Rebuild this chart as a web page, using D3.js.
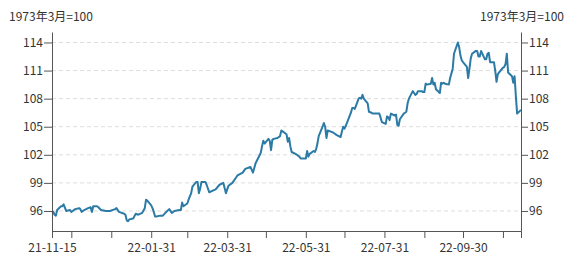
<!DOCTYPE html>
<html>
<head>
<meta charset="utf-8">
<script src="https://cdn.jsdelivr.net/npm/d3@7"></script>
<style>
  html, body { margin: 0; padding: 0; background: #fff; }
  .chart text { font-family: "Noto Sans CJK SC", "Open Sans", sans-serif; font-size: 12px; fill: #333; }
  .axis path, .axis line { stroke: #555; }
  .grid line { stroke: #ddd; stroke-dasharray: 4 3; }
  .line { fill: none; stroke: #2b7ba6; stroke-width: 2; stroke-linejoin: round; }
</style>
</head>
<body>
<div class="chart"></div>
<script>
const unitLabel = "1973年3月=100";

const dates = [
  "2021-11-15","2021-11-16","2021-11-17","2021-11-18","2021-11-19","2021-11-22","2021-11-23","2021-11-24","2021-11-26","2021-11-29","2021-11-30",
  "2021-12-01","2021-12-03","2021-12-06","2021-12-07","2021-12-08","2021-12-10","2021-12-13","2021-12-15","2021-12-16","2021-12-17","2021-12-20","2021-12-21","2021-12-23","2021-12-27","2021-12-30",
  "2022-01-03","2022-01-04","2022-01-06","2022-01-10","2022-01-11","2022-01-12","2022-01-13","2022-01-14","2022-01-17","2022-01-19","2022-01-21","2022-01-24","2022-01-26","2022-01-27","2022-01-28","2022-01-31",
  "2022-02-01","2022-02-02","2022-02-03","2022-02-04","2022-02-07","2022-02-09","2022-02-11","2022-02-14","2022-02-16","2022-02-18","2022-02-22","2022-02-23","2022-02-24","2022-02-25","2022-02-28",
  "2022-03-01","2022-03-03","2022-03-04","2022-03-07","2022-03-08","2022-03-09","2022-03-10","2022-03-11","2022-03-14","2022-03-15","2022-03-17","2022-03-22","2022-03-25","2022-03-28","2022-03-30",
  "2022-04-01","2022-04-04","2022-04-07","2022-04-08","2022-04-12","2022-04-14","2022-04-18","2022-04-20","2022-04-22","2022-04-26","2022-04-27","2022-04-28","2022-04-29",
  "2022-05-02","2022-05-03","2022-05-04","2022-05-05","2022-05-06","2022-05-09","2022-05-11","2022-05-12","2022-05-13","2022-05-16","2022-05-17","2022-05-18","2022-05-19","2022-05-20","2022-05-23","2022-05-24","2022-05-26","2022-05-27","2022-05-30","2022-05-31",
  "2022-06-01","2022-06-02","2022-06-03","2022-06-06","2022-06-07","2022-06-08","2022-06-09","2022-06-10","2022-06-13","2022-06-14","2022-06-15","2022-06-16","2022-06-17","2022-06-21","2022-06-22","2022-06-24","2022-06-27","2022-06-28","2022-06-29","2022-06-30",
  "2022-07-01","2022-07-05","2022-07-06","2022-07-07","2022-07-08","2022-07-11","2022-07-12","2022-07-13","2022-07-14","2022-07-15","2022-07-18","2022-07-19","2022-07-21","2022-07-22","2022-07-25","2022-07-26","2022-07-27","2022-07-28","2022-07-29",
  "2022-08-01","2022-08-02","2022-08-03","2022-08-04","2022-08-05","2022-08-08","2022-08-09","2022-08-10","2022-08-11","2022-08-12","2022-08-15","2022-08-16","2022-08-17","2022-08-18","2022-08-19","2022-08-22","2022-08-23","2022-08-24","2022-08-25","2022-08-26","2022-08-29","2022-08-30","2022-08-31",
  "2022-09-01","2022-09-02","2022-09-05","2022-09-06","2022-09-07","2022-09-08","2022-09-09","2022-09-12","2022-09-13","2022-09-14","2022-09-15","2022-09-16","2022-09-19","2022-09-20","2022-09-21","2022-09-22","2022-09-23","2022-09-26","2022-09-27","2022-09-28","2022-09-29","2022-09-30",
  "2022-10-03","2022-10-04","2022-10-05","2022-10-06","2022-10-07","2022-10-10","2022-10-11","2022-10-12","2022-10-13","2022-10-14","2022-10-17","2022-10-18","2022-10-19","2022-10-20","2022-10-21","2022-10-24","2022-10-25","2022-10-26","2022-10-27","2022-10-28","2022-10-31",
  "2022-11-01","2022-11-02","2022-11-03","2022-11-04","2022-11-07","2022-11-08","2022-11-09","2022-11-10","2022-11-11","2022-11-14"
];

const values = [
  95.8,95.9,95.6,95.5,96.1,96.5,96.5,96.7,96.0,96.1,95.9,
  96.0,96.2,96.3,96.2,95.9,96.1,96.3,96.4,95.9,96.5,96.5,96.4,96.1,96.0,96.0,
  96.2,96.3,95.9,95.7,95.6,95.0,94.9,95.1,95.2,95.7,95.6,95.8,96.3,97.2,97.1,96.6,
  96.3,95.9,95.4,95.4,95.5,95.5,95.8,96.2,95.8,96.0,96.1,96.1,96.9,96.5,96.8,
  97.2,97.9,98.6,99.1,99.1,97.9,98.4,99.1,99.1,98.8,98.0,98.3,98.8,99.0,97.9,
  98.7,99.0,99.6,99.8,100.1,100.5,100.7,100.1,101.1,102.2,102.9,103.5,103.2,
  103.7,103.5,102.5,103.6,103.7,103.8,104.0,104.6,104.5,104.2,103.4,103.8,102.9,102.3,102.1,102.0,101.8,101.6,101.6,101.6,
  102.4,101.8,102.1,102.4,102.3,102.6,103.2,104.0,105.0,105.4,105.0,103.8,104.6,104.4,104.3,104.1,103.9,104.5,105.0,104.8,
  105.1,106.5,107.0,107.0,106.9,108.0,108.1,108.0,108.4,108.0,107.5,106.6,106.5,106.4,106.4,106.4,106.4,106.0,105.5,
  105.3,106.1,106.0,105.7,106.4,106.2,106.3,105.2,105.1,105.8,106.4,106.5,106.6,107.5,108.0,108.8,108.6,108.4,108.5,108.8,108.8,108.7,108.7,
  109.6,109.5,109.6,110.2,109.5,109.7,109.0,108.6,109.7,109.6,109.7,109.6,109.5,110.2,110.7,111.2,112.8,114.0,113.5,112.6,112.1,111.9,
  111.4,110.2,111.2,112.3,112.8,113.1,113.1,112.5,112.5,113.1,112.2,112.2,112.8,112.9,111.9,111.9,111.0,109.8,110.6,110.8,111.3,
  111.4,111.7,112.8,110.8,110.4,109.7,110.4,108.3,106.4,106.8
];

const yTickValues = [96, 99, 102, 105, 108, 111, 114];
const xTickDates = ["2021-11-15","2021-11-30","2021-12-31","2022-01-31","2022-02-28","2022-03-31","2022-04-30","2022-05-31","2022-06-30","2022-07-31","2022-08-31","2022-09-30","2022-10-31"];
const xLabelDates = ["2021-11-15","2022-01-31","2022-03-31","2022-05-31","2022-07-31","2022-09-30"];
const xDomain = ["2021-11-15", "2022-11-14"];
const yDomain = [93.86, 115.12];

const width = 572, height = 263;
const margin = { top: 32, right: 51, bottom: 32, left: 52 };
const innerW = width - margin.left - margin.right;
const innerH = height - margin.top - margin.bottom;
const parseTime = d3.timeParse("%Y-%m-%d");
const fmt = d3.timeFormat("%y-%m-%d");

const svg = d3.select(".chart").append("svg")
  .attr("width", width)
  .attr("height", height);

const g = svg.append("g").attr("transform", `translate(${margin.left},${margin.top})`);

const x = d3.scaleTime().domain(xDomain.map(parseTime)).range([0, innerW]);
const y = d3.scaleLinear().domain(yDomain).range([innerH, 0]);

// dashed gridlines
g.append("g").attr("class", "grid")
  .selectAll("line")
  .data(yTickValues)
  .join("line")
  .attr("x1", 0).attr("x2", innerW)
  .attr("y1", d => y(d)).attr("y2", d => y(d));

const series = dates.map((d, i) => ({ date: parseTime(d), value: values[i] }));

g.append("path")
  .datum(series)
  .attr("class", "line")
  .attr("d", d3.line().x(d => x(d.date)).y(d => y(d.value)));

// axes
const labelSet = new Set(xLabelDates);
g.append("g").attr("class", "axis")
  .attr("transform", `translate(0,${innerH})`)
  .call(d3.axisBottom(x)
    .tickValues(xTickDates.map(parseTime))
    .tickFormat(d => labelSet.has(d3.timeFormat("%Y-%m-%d")(d)) ? fmt(d) : "")
    .tickSize(7).tickSizeOuter(7).tickPadding(5));

g.append("g").attr("class", "axis")
  .call(d3.axisLeft(y).tickValues(yTickValues).tickSize(8).tickSizeOuter(0).tickPadding(1));

g.append("g").attr("class", "axis")
  .attr("transform", `translate(${innerW},0)`)
  .call(d3.axisRight(y).tickValues(yTickValues).tickSize(7).tickSizeOuter(0).tickPadding(1));

svg.selectAll(".axis text").attr("fill", "#333");

// unit labels
svg.append("text").attr("x", 9).attr("y", 21).text(unitLabel);
svg.append("text").attr("x", 564).attr("y", 21).attr("text-anchor", "end").text(unitLabel);
</script>
</body>
</html>
